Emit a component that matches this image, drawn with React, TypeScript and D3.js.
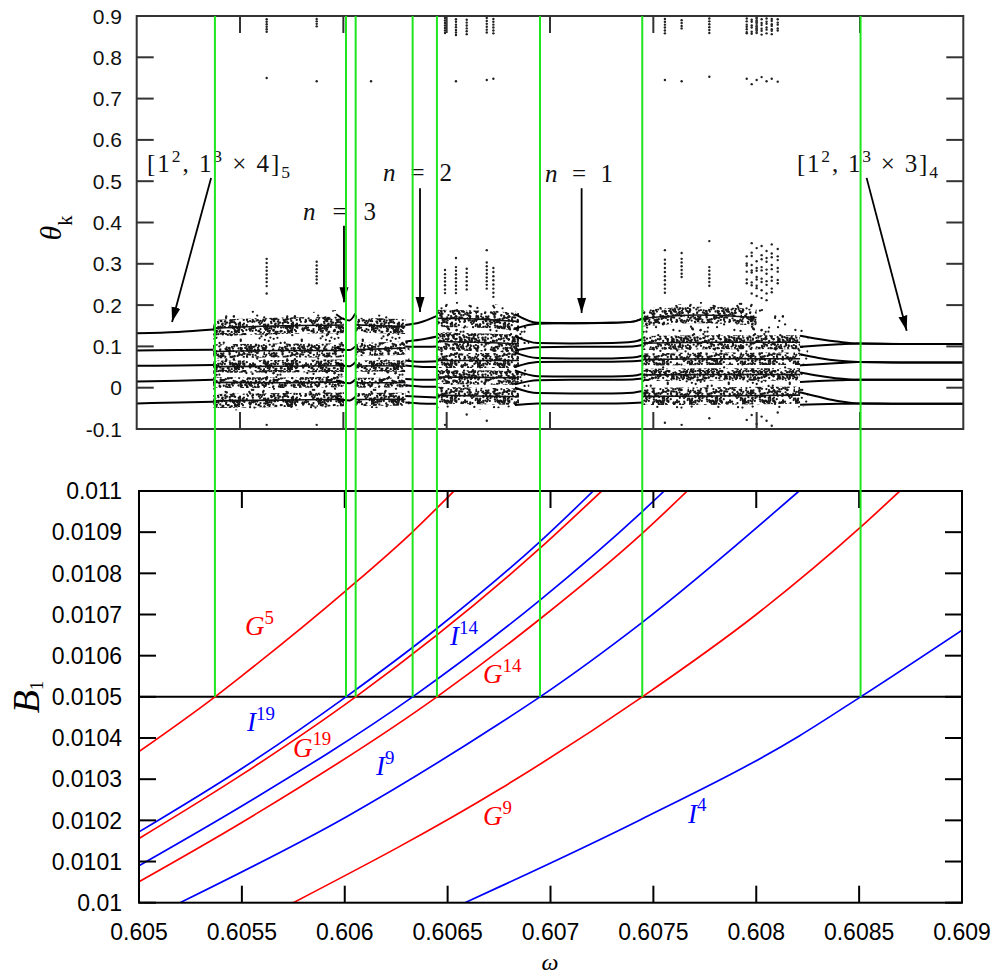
import React from 'react';
import * as d3 from 'd3';

const W = 995;
const H = 977;
const serif = "'Liberation Serif','DejaVu Serif',serif";
const sans = "'Liberation Sans',Arial,Helvetica,sans-serif";

// ---------- lower panel: resonance tongues B1(ω) ----------
const curveFamily = ['G', 'I', 'G', 'I', 'G', 'I', 'G', 'I'];
const curveOrder = ['5', '19', '19', '14', '14', '9', '9', '4'];
const curveOmega = [
  [0.605, 0.605369, 0.6055, 0.606006, 0.60633, 0.606531],
  [0.605, 0.6055, 0.606006, 0.606448, 0.606949, 0.607208],
  [0.605, 0.6055, 0.606053, 0.606949, 0.607249],
  [0.605, 0.6055, 0.60633, 0.606949, 0.607446, 0.607553],
  [0.605, 0.6055, 0.606448, 0.606949, 0.607446, 0.607665],
  [0.605199, 0.606009, 0.606754, 0.606949, 0.607446, 0.608208],
  [0.60575, 0.606754, 0.607446, 0.608, 0.608507, 0.608698],
  [0.606584, 0.606754, 0.607435, 0.608209, 0.608507, 0.609],
];
const curveB1 = [
  [0.010367, 0.0105, 0.010551, 0.010758, 0.010901, 0.011],
  [0.010172, 0.010326, 0.0105, 0.010666, 0.010877, 0.011],
  [0.010156, 0.010311, 0.0105, 0.010861, 0.011],
  [0.01009, 0.010235, 0.0105, 0.010735, 0.01095, 0.011],
  [0.010051, 0.010195, 0.0105, 0.010689, 0.010897, 0.011],
  [0.01, 0.010209, 0.010436, 0.0105, 0.010681, 0.011],
  [0.01, 0.010276, 0.0105, 0.0107, 0.010912, 0.011],
  [0.01, 0.010039, 0.010201, 0.010405, 0.0105, 0.010662],
];
const curveLabelOmega = [0.605515, 0.605525, 0.605748, 0.606512, 0.606672, 0.606152, 0.606672, 0.607668];
const curveLabelB1 = [0.01065, 0.010416, 0.010355, 0.010626, 0.010534, 0.01031, 0.010189, 0.010194];
const sectionB1 = 0.0105;

// ---------- upper panel: θ_k samples ----------
// periodic branches left of the first chaotic zone
const leftOmega = [0.605, 0.6052, 0.60537];
const leftTheta = [
  [0.132, 0.135, 0.141],
  [0.09, 0.091, 0.092],
  [0.053, 0.054, 0.055],
  [0.015, 0.017, 0.019],
  [-0.038, -0.036, -0.034],
];
// n = 3 window
const n3Omega = [0.605965, 0.606003, 0.60603, 0.606058];
const n3Theta = [
  [0.178, 0.166, 0.163, 0.18],
  [0.098, 0.092, 0.091, 0.1],
  [0.06, 0.053, 0.052, 0.062],
  [0.018, 0.012, 0.011, 0.02],
  [-0.024, -0.03, -0.031, -0.022],
];
// n = 2 window
const n2Omega = [0.6063, 0.60637, 0.606453];
const n2Theta = [
  [0.152, 0.158, 0.174],
  [0.112, 0.116, 0.124],
  [0.1, 0.099, 0.1],
  [0.066, 0.063, 0.064],
  [0.054, 0.051, 0.05],
  [0.021, 0.019, 0.02],
  [0.006, 0.003, 0.002],
  [-0.02, -0.022, -0.024],
  [-0.036, -0.038, -0.039],
];
// n = 1 window
const n1Omega = [0.60683, 0.60694, 0.6071, 0.6073, 0.6074, 0.60745];
const n1Theta = [
  [0.178, 0.157, 0.156, 0.157, 0.16, 0.168],
  [0.143, 0.155, 0.156, 0.157, 0.16, 0.168],
  [0.125, 0.108, 0.107, 0.108, 0.111, 0.118],
  [0.09, 0.098, 0.099, 0.099, 0.1, 0.104],
  [0.085, 0.072, 0.071, 0.071, 0.073, 0.078],
  [0.05, 0.062, 0.063, 0.063, 0.064, 0.066],
  [0.042, 0.028, 0.027, 0.027, 0.029, 0.034],
  [0.008, 0.018, 0.019, 0.019, 0.02, 0.022],
  [0.0, -0.013, -0.014, -0.014, -0.012, -0.008],
  [-0.042, -0.038, -0.038, -0.038, -0.037, -0.036],
];
// branches merging into the [1^2,1^3x3]_4 state
const rightOmega = [0.60821, 0.6083, 0.6084, 0.60849, 0.6087, 0.609];
const rightTheta = [
  [0.126, 0.118, 0.111, 0.107, 0.106, 0.106],
  [0.099, 0.102, 0.105, 0.107, 0.106, 0.106],
  [0.081, 0.072, 0.065, 0.062, 0.061, 0.061],
  [0.054, 0.057, 0.06, 0.062, 0.061, 0.061],
  [0.037, 0.029, 0.022, 0.019, 0.019, 0.019],
  [0.014, 0.016, 0.018, 0.019, 0.019, 0.019],
  [-0.011, -0.022, -0.033, -0.038, -0.039, -0.039],
  [-0.041, -0.04, -0.039, -0.038, -0.039, -0.039],
];

// chaotic zones: ω samples with the θ envelope of the scattered iterates
const zoneOmega = [
  [0.60537, 0.6055, 0.6057, 0.6059, 0.606003],
  [0.606058, 0.60615, 0.60625, 0.60632],
  [0.606453, 0.6066, 0.60675, 0.60685, 0.6069],
  [0.60745, 0.6076, 0.6078, 0.608, 0.60815, 0.60825],
];
const zoneLow = [
  [-0.05, -0.055, -0.052, -0.055, -0.05],
  [-0.05, -0.05, -0.045, -0.04],
  [-0.055, -0.055, -0.05, -0.045, -0.04],
  [-0.05, -0.052, -0.05, -0.052, -0.05, -0.045],
];
const zoneHigh = [
  [0.175, 0.19, 0.18, 0.185, 0.19],
  [0.19, 0.18, 0.17, 0.16],
  [0.2, 0.21, 0.2, 0.18, 0.165],
  [0.19, 0.2, 0.21, 0.205, 0.17, 0.13],
];

// dense strands inside the chaotic zones (centre line and half width)
const strandOmega = [
  [0.60537, 0.6057, 0.606003], [0.60537, 0.6057, 0.606003], [0.60537, 0.6057, 0.606003],
  [0.60537, 0.6057, 0.606003], [0.60537, 0.6057, 0.606003],
  [0.606058, 0.60618, 0.6063], [0.606058, 0.60618, 0.6063], [0.606058, 0.60618, 0.6063],
  [0.606058, 0.60618, 0.6063], [0.606058, 0.60618, 0.6063],
  [0.606453, 0.60665, 0.60685], [0.606453, 0.60665, 0.60685], [0.606453, 0.60665, 0.60685],
  [0.606453, 0.60665, 0.60685], [0.606453, 0.60665, 0.60685],
  [0.60745, 0.60772, 0.608], [0.60745, 0.6078, 0.60821], [0.60745, 0.6078, 0.60821],
  [0.60745, 0.6078, 0.60821], [0.60745, 0.6078, 0.60821],
];
const strandCentre = [
  [0.144, 0.15, 0.152], [0.088, 0.09, 0.09], [0.051, 0.052, 0.053], [0.013, 0.012, 0.014], [-0.032, -0.03, -0.028],
  [0.152, 0.15, 0.148], [0.092, 0.094, 0.096], [0.052, 0.053, 0.052], [0.012, 0.012, 0.013], [-0.029, -0.028, -0.028],
  [0.168, 0.166, 0.16], [0.112, 0.11, 0.106], [0.066, 0.066, 0.066], [0.026, 0.025, 0.024], [-0.018, -0.02, -0.022],
  [0.168, 0.176, 0.17], [0.108, 0.11, 0.11], [0.068, 0.07, 0.07], [0.031, 0.032, 0.032], [-0.021, -0.02, -0.018],
];
const strandHalf = [
  0.02, 0.017, 0.015, 0.013, 0.017,
  0.018, 0.016, 0.014, 0.012, 0.016,
  0.021, 0.022, 0.018, 0.017, 0.02,
  0.02, 0.017, 0.015, 0.015, 0.021,
];

// isolated periodic orbits (vertical dotted columns)
const columnOmega = [
  0.605629, 0.605871, 0.606134, 0.606492, 0.606545, 0.606597, 0.606694, 0.606726,
  0.607556, 0.607637, 0.607771, 0.607952, 0.607976, 0.608, 0.608024, 0.608048, 0.608073, 0.608102,
];
const columnTheta = [
  [0.892, 0.886, 0.88, 0.874, 0.868, 0.862, 0.75, 0.312, 0.302, 0.292, 0.283, 0.274, 0.265, 0.256, 0.246, 0.228, -0.09],
  [0.893, 0.887, 0.881, 0.875, 0.742, 0.305, 0.296, 0.287, 0.279, 0.27, 0.262, 0.253, -0.09],
  [0.742],
  [0.895, 0.889, 0.883, 0.877, 0.871, 0.865, 0.859, 0.285, 0.275, 0.266, 0.257, 0.248, 0.238, 0.229, -0.09],
  [0.892, 0.886, 0.879, 0.873, 0.866, 0.86, 0.854, 0.742, 0.314, 0.292, 0.283, 0.274, 0.265, 0.256, 0.247, 0.238, 0.229],
  [0.891, 0.884, 0.877, 0.87, 0.863, 0.856, 0.288, 0.278, 0.268, 0.258, 0.248, 0.238, -0.065],
  [0.895, 0.888, 0.881, 0.874, 0.867, 0.86, 0.745, 0.333, 0.303, 0.294, 0.285, 0.276, 0.267, 0.258, 0.249, 0.24, -0.08],
  [0.893, 0.886, 0.879, 0.872, 0.865, 0.858, 0.748, 0.29, 0.28, 0.27, 0.26, 0.25, 0.24, 0.23, 0.22],
  [0.893, 0.886, 0.879, 0.872, 0.865, 0.858, 0.745, 0.333, 0.31, 0.3, 0.29, 0.28, 0.27, 0.26, 0.25, 0.24, 0.23, -0.085],
  [0.89, 0.883, 0.876, 0.87, 0.742, 0.326, 0.312, 0.303, 0.294, 0.285, 0.276, 0.268, -0.09],
  [0.894, 0.887, 0.88, 0.873, 0.866, 0.859, 0.753, 0.355, 0.292, 0.283, 0.274, 0.265, 0.256, 0.247, -0.074],
  [0.894, 0.887, 0.879, 0.874, 0.868, 0.861, 0.858, 0.748, 0.318, 0.301, 0.296, 0.281, 0.262, 0.253, -0.078],
  [0.891, 0.886, 0.877, 0.872, 0.862, 0.857, 0.735, 0.35, 0.327, 0.319, 0.297, 0.284, 0.279, 0.255, 0.248, 0.228, -0.066],
  [0.895, 0.888, 0.884, 0.875, 0.87, 0.866, 0.859, 0.745, 0.338, 0.306, 0.29, 0.283, 0.268, 0.262, 0.247, 0.241, 0.222, -0.088],
  [0.892, 0.883, 0.878, 0.869, 0.864, 0.855, 0.752, 0.343, 0.321, 0.311, 0.292, 0.284, 0.264, 0.256, 0.236, 0.217, -0.07],
  [0.894, 0.886, 0.881, 0.872, 0.867, 0.858, 0.742, 0.331, 0.314, 0.305, 0.286, 0.276, 0.258, 0.249, 0.228, 0.212, -0.08],
  [0.893, 0.888, 0.88, 0.876, 0.868, 0.864, 0.856, 0.748, 0.347, 0.325, 0.316, 0.297, 0.287, 0.268, 0.259, 0.24, 0.231, -0.092],
  [0.892, 0.884, 0.879, 0.87, 0.865, 0.741, 0.336, 0.318, 0.309, 0.29, 0.281, 0.261, 0.253, -0.06],
];

// annotations of the upper panel (anchor in ω/θ, arrow tail and head in ω/θ)
type Part = { t: string; sup?: boolean; sub?: boolean; it?: boolean };
const noteParts: Part[][] = [
  [{ t: '[1' }, { t: '2', sup: true }, { t: ', 1' }, { t: '3', sup: true }, { t: ' × 4]' }, { t: '5', sub: true }],
  [{ t: 'n', it: true }, { t: ' = 3' }],
  [{ t: 'n', it: true }, { t: ' = 2' }],
  [{ t: 'n', it: true }, { t: ' = 1' }],
  [{ t: '[1' }, { t: '2', sup: true }, { t: ', 1' }, { t: '3', sup: true }, { t: ' × 3]' }, { t: '4', sub: true }],
];
const noteOmega = [0.60505, 0.605805, 0.606192, 0.606976, 0.608195];
const noteTheta = [0.522, 0.406, 0.5, 0.498, 0.522];
const noteWidth = [143, 73, 69, 68, 141];
const arrowTail: [number, number][] = [
  [0.60536, 0.508], [0.606003, 0.392], [0.606371, 0.483], [0.607153, 0.483], [0.608532, 0.508],
];
const arrowHead: [number, number][] = [
  [0.605171, 0.159], [0.606003, 0.207], [0.606371, 0.183], [0.607153, 0.181], [0.608726, 0.138],
];

// ticks
const topTicksX = [0.6055, 0.606, 0.6065, 0.607, 0.6075, 0.608, 0.6085];
const topTicksY = [-0.1, 0, 0.1, 0.2, 0.3, 0.4, 0.5, 0.6, 0.7, 0.8, 0.9];
const botTicksX = [0.605, 0.6055, 0.606, 0.6065, 0.607, 0.6075, 0.608, 0.6085, 0.609];
const botTicksY = [0.01, 0.0101, 0.0102, 0.0103, 0.0104, 0.0105, 0.0106, 0.0107, 0.0108, 0.0109, 0.011];

// scales
const topBox = { l: 136.7, r: 963.3, t: 16, b: 429 };
const botBox = { l: 139, r: 962, t: 491, b: 902.7 };
const xTop = d3.scaleLinear().domain([0.605, 0.609]).range([topBox.l, topBox.r]);
const yTop = d3.scaleLinear().domain([-0.1, 0.9]).range([topBox.b, topBox.t]);
const xBot = d3.scaleLinear().domain([0.605, 0.609]).range([botBox.l, botBox.r]);
const yBot = d3.scaleLinear().domain([0.01, 0.011]).range([botBox.b, botBox.t]);

const fmt = (v: number, d: number) => String(+v.toFixed(d));
const fract = (v: number) => v - Math.floor(v);
// stipple texture used to fill the chaotic regions
function speckles(count: number, w: number, h: number, seed: number) {
  return d3.range(count).map((i) => [
    fract(Math.sin((i + 1) * 12.9898 + seed) * 43758.5453) * w,
    fract(Math.sin((i + 1) * 78.233 + seed * 3.7) * 24634.6345) * h,
  ]);
}
const denseSpecks = speckles(340, 53, 37, 1.3);
const sparseSpecks = speckles(52, 61, 43, 7.1);

function MathText(props: {
  x: number; y: number; parts: Part[]; size: number; fill?: string;
  textLength?: number; anchor?: string; transform?: string; subShift?: number; subScale?: number;
}) {
  const { x, y, parts, size, fill = '#000', textLength, anchor = 'start', transform } = props;
  const subShift = props.subShift ?? 0.22;
  const subScale = props.subScale ?? 0.7;
  let prev = 0;
  return (
    <text x={x} y={y} fontFamily={serif} fontSize={size} fill={fill} textAnchor={anchor}
      textLength={textLength} lengthAdjust={textLength ? 'spacing' : undefined} transform={transform}>
      {parts.map((p, i) => {
        const shift = p.sup ? -0.42 * size : p.sub ? subShift * size : 0;
        const dy = shift - prev;
        prev = shift;
        return (
          <tspan key={i} dy={dy} fontSize={p.sup || p.sub ? size * subScale : size}
            fontStyle={p.it ? 'italic' : 'normal'}>{p.t}</tspan>
        );
      })}
    </text>
  );
}

export default function App() {
  const topLine = d3.line<[number, number]>()
    .x((d) => xTop(d[0])).y((d) => yTop(d[1])).curve(d3.curveMonotoneX);
  const botLine = d3.line<[number, number]>()
    .x((d) => xBot(d[0])).y((d) => yBot(d[1])).curve(d3.curveMonotoneX);
  const topArea = d3.area<[number, number, number]>()
    .x((d) => xTop(d[0])).y0((d) => yTop(d[1])).y1((d) => yTop(d[2])).curve(d3.curveMonotoneX);

  const branchSets: [number[], number[][]][] = [
    [leftOmega, leftTheta], [n3Omega, n3Theta], [n2Omega, n2Theta], [n1Omega, n1Theta], [rightOmega, rightTheta],
  ];

  // ω of every curve where it crosses the section B1 = 0.0105
  const sectionOmega = curveOmega.map((om, i) => om[curveB1[i].indexOf(sectionB1)]);

  return (
    <div style={{ position: 'absolute', left: 0, top: 0 }}>
      <svg width={W} height={H} viewBox={`0 0 ${W} ${H}`} style={{ display: 'block', background: '#fff' }}>
        <defs>
          <pattern id="speckDense" width={53} height={37} patternUnits="userSpaceOnUse">
            {denseSpecks.map((p, i) => <circle key={i} cx={p[0]} cy={p[1]} r={1.15} fill="#161616" />)}
          </pattern>
          <pattern id="speckSparse" width={61} height={43} patternUnits="userSpaceOnUse">
            {sparseSpecks.map((p, i) => <circle key={i} cx={p[0]} cy={p[1]} r={1.15} fill="#161616" />)}
          </pattern>
          <marker id="arrowHead" markerUnits="userSpaceOnUse" markerWidth={16} markerHeight={10}
            refX={15} refY={5} orient="auto">
            <path d="M0,0.5 L15,5 L0,9.5 Z" fill="#000" />
          </marker>
          <clipPath id="clipTop">
            <rect x={topBox.l} y={topBox.t} width={topBox.r - topBox.l} height={topBox.b - topBox.t} />
          </clipPath>
          <clipPath id="clipBot">
            <rect x={botBox.l} y={botBox.t} width={botBox.r - botBox.l} height={botBox.b - botBox.t} />
          </clipPath>
        </defs>

        {/* ---------------- upper panel ---------------- */}
        <g clipPath="url(#clipTop)">
          {zoneOmega.map((om, i) => (
            <path key={`z${i}`}
              d={topArea(om.map((w, j) => [w, zoneLow[i][j], zoneHigh[i][j]] as [number, number, number])) || ''}
              fill="url(#speckSparse)" />
          ))}
          {strandOmega.map((om, i) => (
            <path key={`s${i}`}
              d={topArea(om.map((w, j) => [w, strandCentre[i][j] - strandHalf[i], strandCentre[i][j] + strandHalf[i]] as [number, number, number])) || ''}
              fill="url(#speckDense)" />
          ))}
          {strandOmega.map((om, i) => (
            <path key={`c${i}`} d={topLine(d3.zip(om, strandCentre[i]) as [number, number][]) || ''}
              stroke="#111" strokeWidth={1.6} fill="none" />
          ))}
          {branchSets.map(([om, ths], k) =>
            ths.map((th, i) => (
              <path key={`b${k}-${i}`} d={topLine(d3.zip(om, th) as [number, number][]) || ''}
                stroke="#000" strokeWidth={2} fill="none" />
            )))}
          {columnOmega.map((w, i) =>
            columnTheta[i].map((t, j) => (
              <circle key={`d${i}-${j}`} cx={xTop(w)} cy={yTop(t)} r={1.2} fill="#222" />
            )))}
        </g>
        {/* upper frame and ticks */}
        <rect x={topBox.l} y={topBox.t} width={topBox.r - topBox.l} height={topBox.b - topBox.t}
          fill="none" stroke="#333" strokeWidth={2} />
        {topTicksY.map((v) => (
          <g key={`ty${v}`}>
            <line x1={topBox.l} x2={topBox.l + 17} y1={yTop(v)} y2={yTop(v)} stroke="#333" strokeWidth={2} />
            <line x1={topBox.r - 17} x2={topBox.r} y1={yTop(v)} y2={yTop(v)} stroke="#333" strokeWidth={2} />
            <text x={122} y={yTop(v)} dy="0.36em" textAnchor="end" fontFamily={sans} fontSize={21} fill="#111">
              {fmt(v, 1)}
            </text>
          </g>
        ))}
        {topTicksX.map((v) => (
          <g key={`tx${v}`}>
            <line x1={xTop(v)} x2={xTop(v)} y1={topBox.t} y2={topBox.t + 17} stroke="#333" strokeWidth={2} />
            <line x1={xTop(v)} x2={xTop(v)} y1={topBox.b - 17} y2={topBox.b} stroke="#333" strokeWidth={2} />
          </g>
        ))}
        <MathText x={0} y={0} transform="translate(61,228) rotate(-90)" anchor="middle" size={30}
          parts={[{ t: 'θ', it: true }, { t: 'k', sub: true }]} subShift={0.36} subScale={0.68} />

        {/* annotations */}
        {noteParts.map((parts, i) => (
          <g key={`n${i}`}>
            <MathText x={xTop(noteOmega[i])} y={yTop(noteTheta[i])} parts={parts} size={25}
              textLength={noteWidth[i]} fill="#111" />
            <line x1={xTop(arrowTail[i][0])} y1={yTop(arrowTail[i][1])}
              x2={xTop(arrowHead[i][0])} y2={yTop(arrowHead[i][1])}
              stroke="#000" strokeWidth={1.8} markerEnd="url(#arrowHead)" />
          </g>
        ))}

        {/* ---------------- lower panel ---------------- */}
        <g clipPath="url(#clipBot)">
          <line x1={botBox.l} x2={botBox.r} y1={yBot(sectionB1)} y2={yBot(sectionB1)} stroke="#000" strokeWidth={2} />
          {curveOmega.map((om, i) => (
            <path key={`k${i}`} d={botLine(d3.zip(om, curveB1[i]) as [number, number][]) || ''}
              stroke={curveFamily[i] === 'G' ? '#ff0000' : '#0000ff'} strokeWidth={1.7} fill="none" />
          ))}
        </g>
        <rect x={botBox.l} y={botBox.t} width={botBox.r - botBox.l} height={botBox.b - botBox.t}
          fill="none" stroke="#000" strokeWidth={2} />
        {botTicksY.map((v) => (
          <g key={`by${v}`}>
            <line x1={botBox.l} x2={botBox.l + 17} y1={yBot(v)} y2={yBot(v)} stroke="#000" strokeWidth={2} />
            <line x1={botBox.r - 17} x2={botBox.r} y1={yBot(v)} y2={yBot(v)} stroke="#000" strokeWidth={2} />
            <text x={122} y={yBot(v)} dy="0.36em" textAnchor="end" fontFamily={sans} fontSize={23} fill="#000">
              {fmt(v, 4)}
            </text>
          </g>
        ))}
        {botTicksX.map((v) => (
          <g key={`bx${v}`}>
            <line x1={xBot(v)} x2={xBot(v)} y1={botBox.t} y2={botBox.t + 17} stroke="#000" strokeWidth={2} />
            <line x1={xBot(v)} x2={xBot(v)} y1={botBox.b - 17} y2={botBox.b} stroke="#000" strokeWidth={2} />
            <text x={xBot(v)} y={940} textAnchor="middle" fontFamily={sans} fontSize={23} fill="#000">
              {fmt(v, 4)}
            </text>
          </g>
        ))}
        {curveFamily.map((f, i) => (
          <MathText key={`l${i}`} x={xBot(curveLabelOmega[i])} y={yBot(curveLabelB1[i])} size={27}
            fill={f === 'G' ? '#ff0000' : '#0000ff'}
            parts={[{ t: f, it: true }, { t: curveOrder[i], sup: true }]} />
        ))}
        <MathText x={0} y={0} transform="translate(39,697) rotate(-90)" anchor="middle" size={38}
          parts={[{ t: 'B', it: true }, { t: '1', sub: true }]} subShift={0.1} subScale={0.5} />
        <text x={550} y={970} textAnchor="middle" fontFamily={serif} fontStyle="italic" fontSize={24}>ω</text>

        {/* section lines linking B1 = 0.0105 crossings to the upper panel */}
        {sectionOmega.map((w, i) => (
          <line key={`g${i}`} x1={xBot(w)} x2={xBot(w)} y1={topBox.t} y2={yBot(sectionB1)}
            stroke="#1ee61e" strokeWidth={2} />
        ))}
      </svg>
    </div>
  );
}
